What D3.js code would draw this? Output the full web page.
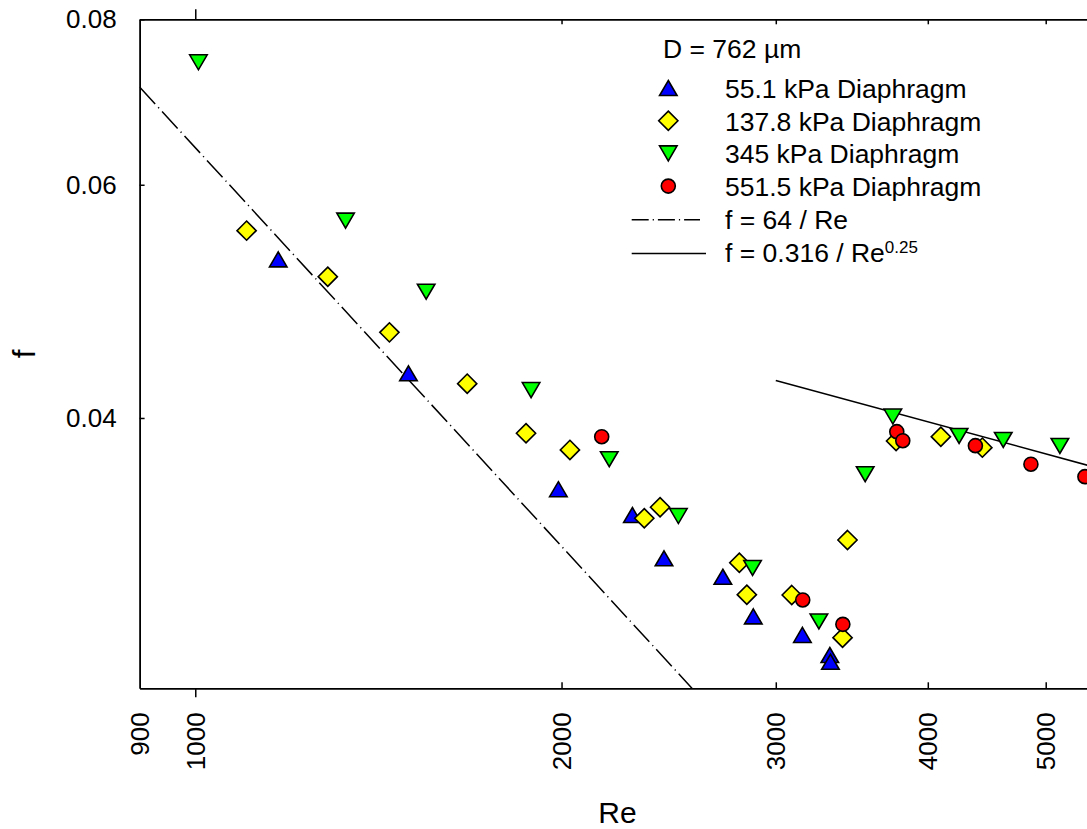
<!DOCTYPE html>
<html>
<head>
<meta charset="utf-8">
<script src="https://cdn.jsdelivr.net/npm/d3@7"></script>
<style>
  html, body { margin: 0; padding: 0; background: #fff; }
  svg { display: block; font-family: "Liberation Sans", Arial, sans-serif; }
</style>
</head>
<body>
<svg id="chart" width="1087" height="829"></svg>
<script>
// ---- Data ----
const blueRe = [1170, 1497, 1988, 2287, 2428, 2714, 2875, 3155, 3323, 3327];
const blueF  = [0.0527, 0.04323, 0.03534, 0.03379, 0.03134, 0.03035, 0.02833, 0.02743, 0.02649, 0.02618];

const yellowRe = [1102, 1285, 1444, 1673, 1870, 2032, 2339, 2410, 2800, 2840, 3092, 3436, 3404, 3767, 4100, 4435];
const yellowF  = [0.0554, 0.05114, 0.04642, 0.04246, 0.03895, 0.03784, 0.0336, 0.03425, 0.0311, 0.02942, 0.0294, 0.03235, 0.0273, 0.03843, 0.03872, 0.03799];

const greenRe = [1006, 1329, 1548, 1888, 2189, 2495, 2871, 3255, 3553, 3744, 4244, 4614, 5136];
const greenF  = [0.07424, 0.05637, 0.04982, 0.04199, 0.03723, 0.03373, 0.03082, 0.02808, 0.03627, 0.0401, 0.03877, 0.0385, 0.0381];

const redRe = [2158, 3157, 3406, 3772, 3815, 4377, 4862, 5385];
const redF  = [0.03872, 0.02915, 0.02794, 0.03906, 0.03845, 0.03812, 0.03691, 0.03612];

const seriesNames = ["55.1 kPa Diaphragm", "137.8 kPa Diaphragm", "345 kPa Diaphragm", "551.5 kPa Diaphragm"];
const seriesColors = ["#0000ff", "#ffff00", "#00ff00", "#ff0000"];
const seriesShapes = ["triUp", "diamond", "triDown", "circle"];

const xTickValues = [900, 1000, 2000, 3000, 4000, 5000];
const yTickValues = [0.04, 0.06, 0.08];

// theoretical curves (endpoints in Re; f from the legend formulas)
const laminarRe = [900, 3000];
const blasiusRe = [3000, 7000];

(function () {
// ---- Layout ----
const svg = d3.select("#chart");
const pLeft = 139.6, pTop = 19.3, pBottom = 688.3;
const pxPerDecade = 1216.7;
const xMax = 6000;
const pRight = pLeft + pxPerDecade * Math.log10(xMax / 900);

const x = d3.scaleLog().domain([900, xMax]).range([pLeft, pRight]);
const y = d3.scaleLog().domain([0.025, 0.08]).range([pBottom, pTop]);

svg.append("rect").attr("width", 1087).attr("height", 829).attr("fill", "#fff");

svg.append("defs").append("clipPath").attr("id", "plotclip")
  .append("rect").attr("x", pLeft).attr("y", pTop).attr("width", pRight - pLeft).attr("height", pBottom - pTop);

// ---- Theoretical lines ----
const lineGen = d3.line().x(d => x(d[0])).y(d => y(d[1]));
const plot = svg.append("g").attr("clip-path", "url(#plotclip)");
plot.append("path")
  .attr("d", lineGen(laminarRe.map(r => [r, 64 / r])))
  .attr("fill", "none").attr("stroke", "#000").attr("stroke-width", 1.5)
  .attr("stroke-dasharray", "23,4.5,1.2,4.5");
plot.append("path")
  .attr("d", lineGen(blasiusRe.map(r => [r, 0.316 / Math.pow(r, 0.25)])))
  .attr("fill", "none").attr("stroke", "#000").attr("stroke-width", 1.5);

// ---- Markers ----
function shapePath(shape) {
  const w = 17.5, h = 15, d = 9.6;
  if (shape === "triUp") return `M0,${-h/2}L${w/2},${h/2}L${-w/2},${h/2}Z`;
  if (shape === "triDown") return `M${-w/2},${-h/2}L${w/2},${-h/2}L0,${h/2}Z`;
  if (shape === "diamond") return `M0,${-d}L${d},0L0,${d}L${-d},0Z`;
  return null;
}
function drawMarker(g, shape, color, cx, cy) {
  if (shape === "circle") {
    g.append("circle").attr("cx", cx).attr("cy", cy).attr("r", 7)
      .attr("fill", color).attr("stroke", "#000").attr("stroke-width", 1.6);
  } else {
    g.append("path").attr("d", shapePath(shape))
      .attr("transform", `translate(${cx},${cy})`)
      .attr("fill", color).attr("stroke", "#000").attr("stroke-width", 1.6)
      .attr("stroke-linejoin", "miter");
  }
}
const allSeries = [[blueRe, blueF], [yellowRe, yellowF], [greenRe, greenF], [redRe, redF]];
const markG = svg.append("g").attr("clip-path", "url(#plotclip)");
allSeries.forEach((s, i) => {
  s[0].forEach((r, j) => drawMarker(markG, seriesShapes[i], seriesColors[i], x(r), y(s[1][j])));
});

// ---- Axes ----
const fontTick = 26;
const ff = "Liberation Sans, Arial, sans-serif";
// bottom
const xAxisB = svg.append("g").attr("transform", `translate(0,${pBottom})`)
  .call(d3.axisBottom(x).tickValues(xTickValues).tickSizeInner(-6).tickSizeOuter(0).tickFormat(d3.format("d")));
xAxisB.select(".domain").attr("stroke-width", 1.8);
xAxisB.selectAll(".tick line").attr("stroke-width", 1.5)
  .attr("y2", d => d === 1000 ? 9 : (d === 900 ? 0 : -6));
xAxisB.selectAll(".tick text")
  .attr("font-size", fontTick).attr("font-family", ff).attr("fill", "#000")
  .attr("text-anchor", "end").attr("y", 0).attr("dy", "0.35em")
  .attr("transform", "translate(0,24) rotate(-90)").attr("x", 0);
// top
const xAxisT = svg.append("g").attr("transform", `translate(0,${pTop})`)
  .call(d3.axisTop(x).tickValues([1000, 2000, 3000, 4000, 5000]).tickSizeOuter(0).tickFormat(""));
xAxisT.select(".domain").attr("stroke-width", 1.8);
xAxisT.selectAll(".tick line").attr("stroke-width", 1.5)
  .attr("y2", d => d === 1000 ? -10 : 5);
// left
const yAxis = svg.append("g").attr("transform", `translate(${pLeft},0)`)
  .call(d3.axisLeft(y).tickValues(yTickValues).tickSizeInner(-5).tickSizeOuter(0).tickPadding(23).tickFormat(d3.format(".2f")));
yAxis.select(".domain").attr("stroke-width", 1.8);
yAxis.selectAll(".tick line").attr("stroke-width", 1.5);
yAxis.selectAll(".tick text").attr("font-size", fontTick)
  .attr("font-family", ff).attr("fill", "#000");

// ---- Axis titles ----
svg.append("text").attr("x", 617.5).attr("y", 823).attr("text-anchor", "middle")
  .attr("font-size", 30).text("Re");
svg.append("text").attr("transform", "translate(35,354) rotate(-90)").attr("text-anchor", "middle")
  .attr("font-size", 31).text("f");

// ---- Legend ----
const lg = svg.append("g").attr("font-size", 26.5);
lg.append("text").attr("x", 663).attr("y", 58).text("D = 762 µm");
const rowBase = 98, rowStep = 32.7;
seriesNames.forEach((name, i) => {
  const by = rowBase + i * rowStep;
  drawMarker(lg, seriesShapes[i], seriesColors[i], 668.3, by - 10);
  lg.append("text").attr("x", 725).attr("y", by).text(name);
});
{
  const by = rowBase + 4 * rowStep;
  lg.append("line").attr("x1", 631.7).attr("x2", 700).attr("y1", by - 9).attr("y2", by - 9)
    .attr("stroke", "#000").attr("stroke-width", 1.5).attr("stroke-dasharray", "17,4,1.2,4");
  lg.append("text").attr("x", 725).attr("y", by).text("f = 64 / Re");
}
{
  const by = rowBase + 5 * rowStep;
  lg.append("line").attr("x1", 631.7).attr("x2", 706).attr("y1", by - 8).attr("y2", by - 8)
    .attr("stroke", "#000").attr("stroke-width", 1.5);
  const t = lg.append("text").attr("x", 725).attr("y", by);
  t.append("tspan").text("f = 0.316 / Re");
  t.append("tspan").attr("font-size", 17).attr("dy", -9).text("0.25");
}
})();
</script>
</body>
</html>
